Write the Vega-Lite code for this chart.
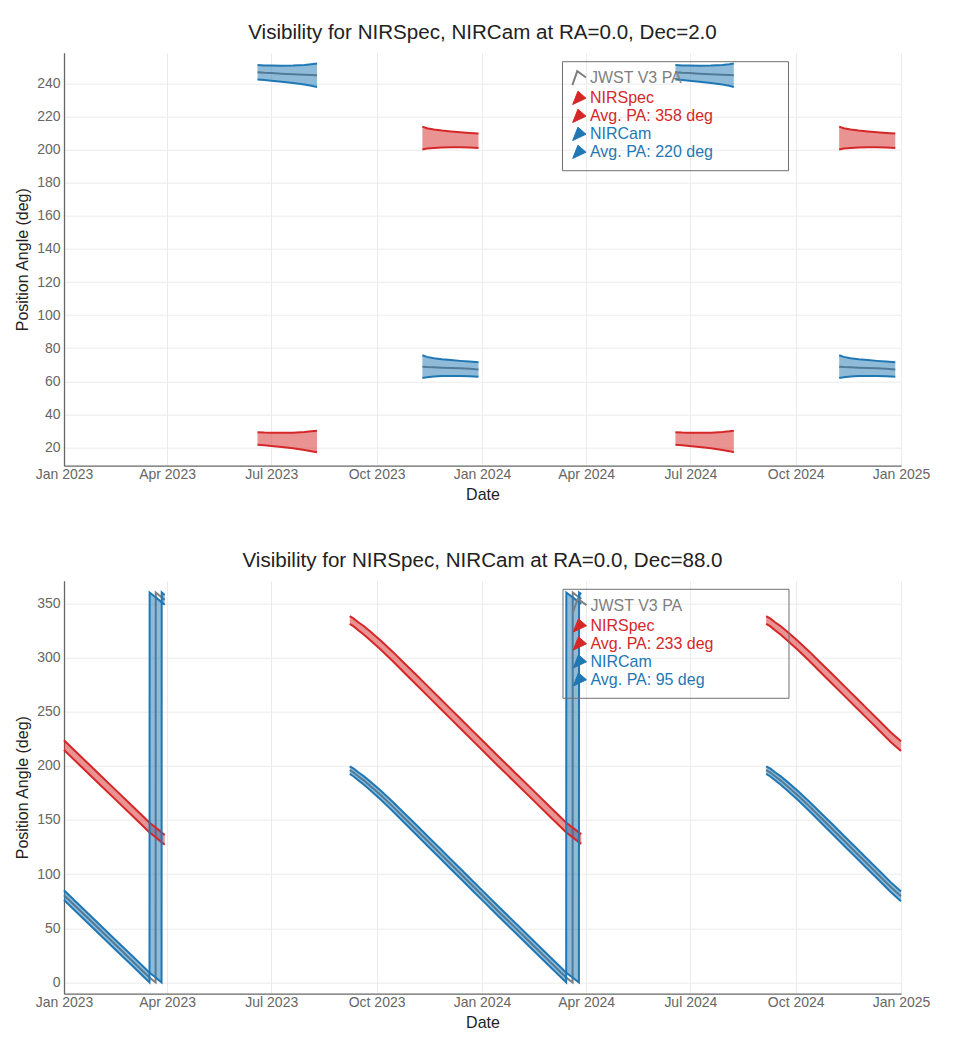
{
  "$schema": "https://vega.github.io/schema/vega-lite/v6.json",
  "padding": {"top": 22.7, "left": 14, "right": 10, "bottom": 5},
  "background": "white",
  "config": {
    "font": "Liberation Sans",
    "view": {"stroke": null},
    "axis": {"gridColor": "#ebebeb", "gridWidth": 1, "domainColor": "#666666", "domainWidth": 1.3, "ticks": false, "tickSize": 0, "labelColor": "#666666", "labelFontSize": 14, "titleColor": "#222222", "titleFontSize": 16, "titleFontWeight": "normal", "labelOverlap": false},
    "axisX": {"labelPadding": 2, "titlePadding": 5, "labelFlush": false},
    "axisY": {"labelPadding": 4, "titlePadding": 6.2},
    "title": {"fontSize": 20.6, "fontWeight": "normal", "color": "#222222", "anchor": "middle", "frame": "group", "offset": 9.3, "baseline": "alphabetic"},
    "legend": {"labelFontSize": 16, "padding": 9, "rowPadding": 0, "strokeColor": "#6f6f6f", "symbolSize": 196, "labelOffset": 3, "labelLimit": 400}
  },
  "data": {"values": [
    {"p":"a","g":"J23","t":"2023-06-19","sl":21.5,"sh":29.2,"cl":242.5,"ch":251.2,"v":246.9},
    {"p":"a","g":"J23","t":"2023-06-25","sl":21.2,"sh":29.0,"cl":242.2,"ch":251.0,"v":246.6},
    {"p":"a","g":"J23","t":"2023-07-01","sl":20.8,"sh":28.9,"cl":241.8,"ch":250.9,"v":246.4},
    {"p":"a","g":"J23","t":"2023-07-10","sl":20.2,"sh":28.8,"cl":241.2,"ch":250.8,"v":246.0},
    {"p":"a","g":"J23","t":"2023-07-20","sl":19.4,"sh":28.9,"cl":240.4,"ch":250.9,"v":245.7},
    {"p":"a","g":"J23","t":"2023-07-30","sl":18.4,"sh":29.3,"cl":239.4,"ch":251.3,"v":245.4},
    {"p":"a","g":"J23","t":"2023-08-05","sl":17.7,"sh":29.7,"cl":238.7,"ch":251.7,"v":245.2},
    {"p":"a","g":"J23","t":"2023-08-10","sl":17.0,"sh":30.1,"cl":238.0,"ch":252.1,"v":245.1},
    {"p":"a","g":"N23","t":"2023-11-10","sl":200.2,"sh":214.0,"cl":61.9,"ch":75.7,"v":68.8},
    {"p":"a","g":"N23","t":"2023-11-14","sl":200.7,"sh":213.0,"cl":62.4,"ch":74.7,"v":68.6},
    {"p":"a","g":"N23","t":"2023-11-20","sl":201.1,"sh":212.2,"cl":62.8,"ch":73.9,"v":68.4},
    {"p":"a","g":"N23","t":"2023-11-27","sl":201.4,"sh":211.6,"cl":63.1,"ch":73.3,"v":68.2},
    {"p":"a","g":"N23","t":"2023-12-05","sl":201.5,"sh":211.1,"cl":63.2,"ch":72.8,"v":68.0},
    {"p":"a","g":"N23","t":"2023-12-13","sl":201.5,"sh":210.6,"cl":63.2,"ch":72.3,"v":67.8},
    {"p":"a","g":"N23","t":"2023-12-21","sl":201.3,"sh":210.2,"cl":63.0,"ch":71.9,"v":67.5},
    {"p":"a","g":"N23","t":"2023-12-29","sl":201.0,"sh":209.8,"cl":62.7,"ch":71.5,"v":67.1},
    {"p":"a","g":"J24","t":"2024-06-18","sl":21.5,"sh":29.2,"cl":242.5,"ch":251.2,"v":246.9},
    {"p":"a","g":"J24","t":"2024-06-24","sl":21.2,"sh":29.0,"cl":242.2,"ch":251.0,"v":246.6},
    {"p":"a","g":"J24","t":"2024-06-30","sl":20.8,"sh":28.9,"cl":241.8,"ch":250.9,"v":246.4},
    {"p":"a","g":"J24","t":"2024-07-09","sl":20.2,"sh":28.8,"cl":241.2,"ch":250.8,"v":246.0},
    {"p":"a","g":"J24","t":"2024-07-19","sl":19.4,"sh":28.9,"cl":240.4,"ch":250.9,"v":245.7},
    {"p":"a","g":"J24","t":"2024-07-29","sl":18.4,"sh":29.3,"cl":239.4,"ch":251.3,"v":245.4},
    {"p":"a","g":"J24","t":"2024-08-04","sl":17.7,"sh":29.7,"cl":238.7,"ch":251.7,"v":245.2},
    {"p":"a","g":"J24","t":"2024-08-08","sl":17.0,"sh":30.1,"cl":238.0,"ch":252.1,"v":245.1},
    {"p":"a","g":"N24","t":"2024-11-08","sl":200.2,"sh":214.0,"cl":61.9,"ch":75.7,"v":68.8},
    {"p":"a","g":"N24","t":"2024-11-12","sl":200.7,"sh":213.0,"cl":62.4,"ch":74.7,"v":68.6},
    {"p":"a","g":"N24","t":"2024-11-18","sl":201.1,"sh":212.2,"cl":62.8,"ch":73.9,"v":68.4},
    {"p":"a","g":"N24","t":"2024-11-25","sl":201.4,"sh":211.6,"cl":63.1,"ch":73.3,"v":68.2},
    {"p":"a","g":"N24","t":"2024-12-03","sl":201.5,"sh":211.1,"cl":63.2,"ch":72.8,"v":68.0},
    {"p":"a","g":"N24","t":"2024-12-11","sl":201.5,"sh":210.6,"cl":63.2,"ch":72.3,"v":67.8},
    {"p":"a","g":"N24","t":"2024-12-19","sl":201.3,"sh":210.2,"cl":63.0,"ch":71.9,"v":67.5},
    {"p":"a","g":"N24","t":"2024-12-27","sl":201.0,"sh":209.8,"cl":62.7,"ch":71.5,"v":67.1},

    {"p":"b","g":"A","t":"2023-01-01","sl":214.5,"sh":223.5,"cl":76,"ch":85,"v":80.5},
    {"p":"b","g":"A","t":"2023-01-15","sl":200.3,"sh":209.3,"cl":61.8,"ch":70.8,"v":66.3},
    {"p":"b","g":"A","t":"2023-02-01","sl":183,"sh":192,"cl":44.5,"ch":53.5,"v":49},
    {"p":"b","g":"A","t":"2023-02-15","sl":168.7,"sh":177.7,"cl":30.2,"ch":39.2,"v":34.7},
    {"p":"b","g":"A","t":"2023-03-01","sl":154.5,"sh":163.5,"cl":16,"ch":25,"v":20.5},
    {"p":"b","g":"A","t":"2023-03-10","sl":145.3,"sh":154.3,"cl":6.8,"ch":15.8,"v":11.3},
    {"p":"b","g":"A","t":"2023-03-16T16:00:00Z","sl":138.5,"sh":147.5,"cl":0,"ch":9,"v":4.5},
    {"p":"b","g":"A","t":"2023-03-16T19:00:00Z","sl":138.4,"sh":147.4,"cl":359.9,"ch":8.9,"v":4.4},
    {"p":"b","g":"A","t":"2023-03-22T00:00:00Z","sl":134,"sh":143,"cl":355.5,"ch":4.5,"v":0},
    {"p":"b","g":"A","t":"2023-03-22T03:00:00Z","sl":133.9,"sh":142.9,"cl":355.4,"ch":4.4,"v":359.9},
    {"p":"b","g":"A","t":"2023-03-27T05:00:00Z","sl":129.5,"sh":138.5,"cl":351,"ch":0,"v":355.5},
    {"p":"b","g":"A","t":"2023-03-27T08:00:00Z","sl":129.4,"sh":138.4,"cl":350.9,"ch":359.9,"v":355.4},
    {"p":"b","g":"A","t":"2023-03-30","sl":127,"sh":136,"cl":348.5,"ch":357.5,"v":353},

    {"p":"b","g":"B","t":"2023-09-07T14:00:00Z","sl":331,"sh":338,"cl":192.5,"ch":199.5,"v":196},
    {"p":"b","g":"B","t":"2023-09-11","sl":328.6,"sh":335.8,"cl":190.1,"ch":197.3,"v":193.7},
    {"p":"b","g":"B","t":"2023-09-15","sl":325.1,"sh":332.5,"cl":186.6,"ch":194,"v":190.3},
    {"p":"b","g":"B","t":"2023-09-20","sl":320.9,"sh":328.7,"cl":182.4,"ch":190.2,"v":186.3},
    {"p":"b","g":"B","t":"2023-09-25","sl":316.3,"sh":324.3,"cl":177.8,"ch":185.8,"v":181.8},
    {"p":"b","g":"B","t":"2023-10-05","sl":306.8,"sh":315.2,"cl":168.3,"ch":176.7,"v":172.5},
    {"p":"b","g":"B","t":"2023-10-15","sl":296.7,"sh":305.3,"cl":158.2,"ch":166.8,"v":162.5},
    {"p":"b","g":"B","t":"2023-10-25","sl":286.1,"sh":294.9,"cl":147.6,"ch":156.4,"v":152},
    {"p":"b","g":"B","t":"2023-11-05","sl":274.5,"sh":283.5,"cl":136,"ch":145,"v":140.5},
    {"p":"b","g":"B","t":"2023-11-15","sl":264,"sh":273,"cl":125.5,"ch":134.5,"v":130},
    {"p":"b","g":"B","t":"2023-11-25","sl":253.5,"sh":262.5,"cl":115,"ch":124,"v":119.5},
    {"p":"b","g":"B","t":"2023-12-05","sl":243,"sh":252,"cl":104.5,"ch":113.5,"v":109},
    {"p":"b","g":"B","t":"2023-12-15","sl":232.5,"sh":241.5,"cl":94,"ch":103,"v":98.5},
    {"p":"b","g":"B","t":"2023-12-25","sl":222,"sh":231,"cl":83.5,"ch":92.5,"v":88},
    {"p":"b","g":"B","t":"2024-01-01","sl":214.7,"sh":223.7,"cl":76.2,"ch":85.2,"v":80.7},
    {"p":"b","g":"B","t":"2024-01-15","sl":200,"sh":209,"cl":61.5,"ch":70.5,"v":66},
    {"p":"b","g":"B","t":"2024-02-01","sl":182.5,"sh":191.5,"cl":44,"ch":53,"v":48.5},
    {"p":"b","g":"B","t":"2024-02-15","sl":168,"sh":177,"cl":29.5,"ch":38.5,"v":34},
    {"p":"b","g":"B","t":"2024-03-01","sl":152.5,"sh":161.5,"cl":14,"ch":23,"v":18.5},
    {"p":"b","g":"B","t":"2024-03-08","sl":145.3,"sh":154.3,"cl":6.8,"ch":15.8,"v":11.3},
    {"p":"b","g":"B","t":"2024-03-14T14:00:00Z","sl":138.5,"sh":147.5,"cl":0,"ch":9,"v":4.5},
    {"p":"b","g":"B","t":"2024-03-14T17:00:00Z","sl":138.4,"sh":147.4,"cl":359.9,"ch":8.9,"v":4.4},
    {"p":"b","g":"B","t":"2024-03-20T04:00:00Z","sl":134,"sh":143,"cl":355.5,"ch":4.5,"v":0},
    {"p":"b","g":"B","t":"2024-03-20T07:00:00Z","sl":133.9,"sh":142.9,"cl":355.4,"ch":4.4,"v":359.9},
    {"p":"b","g":"B","t":"2024-03-25T17:00:00Z","sl":129.5,"sh":138.5,"cl":351,"ch":0,"v":355.5},
    {"p":"b","g":"B","t":"2024-03-25T20:00:00Z","sl":129.4,"sh":138.4,"cl":350.9,"ch":359.9,"v":355.4},
    {"p":"b","g":"B","t":"2024-03-27T17:00:00Z","sl":127.9,"sh":136.9,"cl":349.4,"ch":358.4,"v":353.9},

    {"p":"b","g":"C","t":"2024-09-05T05:00:00Z","sl":331,"sh":338,"cl":192.5,"ch":199.5,"v":196},
    {"p":"b","g":"C","t":"2024-09-09","sl":328.6,"sh":335.8,"cl":190.1,"ch":197.3,"v":193.7},
    {"p":"b","g":"C","t":"2024-09-13","sl":325.1,"sh":332.5,"cl":186.6,"ch":194,"v":190.3},
    {"p":"b","g":"C","t":"2024-09-18","sl":320.9,"sh":328.7,"cl":182.4,"ch":190.2,"v":186.3},
    {"p":"b","g":"C","t":"2024-09-23","sl":316.3,"sh":324.3,"cl":177.8,"ch":185.8,"v":181.8},
    {"p":"b","g":"C","t":"2024-10-03","sl":306.8,"sh":315.2,"cl":168.3,"ch":176.7,"v":172.5},
    {"p":"b","g":"C","t":"2024-10-13","sl":296.7,"sh":305.3,"cl":158.2,"ch":166.8,"v":162.5},
    {"p":"b","g":"C","t":"2024-10-23","sl":286.1,"sh":294.9,"cl":147.6,"ch":156.4,"v":152},
    {"p":"b","g":"C","t":"2024-11-03","sl":274.5,"sh":283.5,"cl":136,"ch":145,"v":140.5},
    {"p":"b","g":"C","t":"2024-11-13","sl":264,"sh":273,"cl":125.5,"ch":134.5,"v":130},
    {"p":"b","g":"C","t":"2024-11-23","sl":253.5,"sh":262.5,"cl":115,"ch":124,"v":119.5},
    {"p":"b","g":"C","t":"2024-12-03","sl":243,"sh":252,"cl":104.5,"ch":113.5,"v":109},
    {"p":"b","g":"C","t":"2024-12-13","sl":232.5,"sh":241.5,"cl":94,"ch":103,"v":98.5},
    {"p":"b","g":"C","t":"2024-12-23","sl":222,"sh":231,"cl":83.5,"ch":92.5,"v":88},
    {"p":"b","g":"C","t":"2025-01-01","sl":213.5,"sh":222.5,"cl":75,"ch":84,"v":79.5}
  ]},
  "resolve": {"scale": {"color": "independent"}, "legend": {"color": "independent"}},
  "spacing": 48,
  "vconcat": [
    {
      "width": 837, "height": 413,
      "title": {"text": "Visibility for NIRSpec, NIRCam at RA=0.0, Dec=2.0"},
      "transform": [{"filter": "datum.p === 'a'"}],
      "encoding": {
        "x": {"field": "t", "type": "temporal", "title": "Date",
          "scale": {"type": "utc", "domain": [{"year": 2023, "month": 1, "date": 1, "utc": true}, {"year": 2025, "month": 1, "date": 1, "utc": true}]},
          "axis": {"format": "%b %Y", "values": [
            {"year": 2023, "month": 1, "date": 1, "utc": true}, {"year": 2023, "month": 4, "date": 1, "utc": true},
            {"year": 2023, "month": 7, "date": 1, "utc": true}, {"year": 2023, "month": 10, "date": 1, "utc": true},
            {"year": 2024, "month": 1, "date": 1, "utc": true}, {"year": 2024, "month": 4, "date": 1, "utc": true},
            {"year": 2024, "month": 7, "date": 1, "utc": true}, {"year": 2024, "month": 10, "date": 1, "utc": true},
            {"year": 2025, "month": 1, "date": 1, "utc": true}]}}
      },
      "layer": [
        {"mark": {"type": "line", "strokeWidth": 2},
         "encoding": {
           "y": {"field": "v", "type": "quantitative", "title": "Position Angle (deg)", "scale": {"domain": [8.9, 258.7], "nice": false, "zero": false}, "axis": {"values": [20,40,60,80,100,120,140,160,180,200,220,240]}},
           "detail": {"field": "g"},
           "color": {"datum": "JWST V3 PA", "type": "nominal",
             "scale": {"domain": ["JWST V3 PA", "NIRSpec", "Avg. PA: 358 deg", "NIRCam", "Avg. PA: 220 deg"], "range": ["#7f7f7f", "#d62728", "#d62728", "#1f77b4", "#1f77b4"]},
             "legend": {"orient": "none", "legendX": 498, "legendY": 8.5, "title": null,
               "encode": {
                 "labels": {"update": {
                   "text": {"signal": "datum.label + '            \u2800'"},
                   "fill": {"signal": "datum.value === 'JWST V3 PA' ? '#7f7f7f' : (datum.value === 'NIRSpec' || datum.value === 'Avg. PA: 358 deg') ? '#d62728' : '#1f77b4'"}}},
                 "symbols": {"update": {
                   "shape": {"signal": "datum.value === 'JWST V3 PA' ? 'M-0.95,1L-0.25,-1L1,-0.1' : 'M-0.9,0.9L1,0L-0.15,-1Z'"},
                   "fill": {"signal": "datum.value === 'JWST V3 PA' ? 'transparent' : (datum.value === 'NIRSpec' || datum.value === 'Avg. PA: 358 deg') ? '#d62728' : '#1f77b4'"},
                   "fillOpacity": {"signal": "datum.value === 'JWST V3 PA' ? 0 : 1"},
                   "stroke": {"signal": "datum.value === 'JWST V3 PA' ? '#7f7f7f' : (datum.value === 'NIRSpec' || datum.value === 'Avg. PA: 358 deg') ? '#d62728' : '#1f77b4'"},
                   "strokeWidth": {"signal": "datum.value === 'JWST V3 PA' ? 2 : 1"},
                   "opacity": {"value": 1}
                 }}
               }}}
         }},
        {"mark": {"type": "area", "opacity": 0.5},
         "encoding": {
           "y": {"field": "sl", "type": "quantitative", "title": "Position Angle (deg)", "scale": {"domain": [8.9, 258.7], "nice": false, "zero": false}, "axis": {"values": [20,40,60,80,100,120,140,160,180,200,220,240]}},
           "y2": {"field": "sh"},
           "detail": {"field": "g"},
           "color": {"datum": "NIRSpec", "type": "nominal", "scale": {"domain": ["JWST V3 PA", "NIRSpec", "Avg. PA: 358 deg", "NIRCam", "Avg. PA: 220 deg"], "range": ["#7f7f7f", "#d62728", "#d62728", "#1f77b4", "#1f77b4"]}}
         }},
        {"mark": {"type": "area", "opacity": 0.5},
         "encoding": {
           "y": {"field": "cl", "type": "quantitative", "title": "Position Angle (deg)", "scale": {"domain": [8.9, 258.7], "nice": false, "zero": false}, "axis": {"values": [20,40,60,80,100,120,140,160,180,200,220,240]}},
           "y2": {"field": "ch"},
           "detail": {"field": "g"},
           "color": {"datum": "NIRCam", "type": "nominal", "scale": {"domain": ["JWST V3 PA", "NIRSpec", "Avg. PA: 358 deg", "NIRCam", "Avg. PA: 220 deg"], "range": ["#7f7f7f", "#d62728", "#d62728", "#1f77b4", "#1f77b4"]}}
         }},
        {"mark": {"type": "line", "strokeWidth": 2},
         "encoding": {
           "y": {"field": "sl", "type": "quantitative", "title": "Position Angle (deg)", "scale": {"domain": [8.9, 258.7], "nice": false, "zero": false}, "axis": {"values": [20,40,60,80,100,120,140,160,180,200,220,240]}},
           "detail": {"field": "g"},
           "color": {"datum": "NIRSpec", "type": "nominal", "scale": {"domain": ["JWST V3 PA", "NIRSpec", "Avg. PA: 358 deg", "NIRCam", "Avg. PA: 220 deg"], "range": ["#7f7f7f", "#d62728", "#d62728", "#1f77b4", "#1f77b4"]}}
         }},
        {"mark": {"type": "line", "strokeWidth": 2},
         "encoding": {
           "y": {"field": "sh", "type": "quantitative", "title": "Position Angle (deg)", "scale": {"domain": [8.9, 258.7], "nice": false, "zero": false}, "axis": {"values": [20,40,60,80,100,120,140,160,180,200,220,240]}},
           "detail": {"field": "g"},
           "color": {"datum": "NIRSpec", "type": "nominal", "scale": {"domain": ["JWST V3 PA", "NIRSpec", "Avg. PA: 358 deg", "NIRCam", "Avg. PA: 220 deg"], "range": ["#7f7f7f", "#d62728", "#d62728", "#1f77b4", "#1f77b4"]}}
         }},
        {"mark": {"type": "line", "strokeWidth": 2},
         "encoding": {
           "y": {"field": "cl", "type": "quantitative", "title": "Position Angle (deg)", "scale": {"domain": [8.9, 258.7], "nice": false, "zero": false}, "axis": {"values": [20,40,60,80,100,120,140,160,180,200,220,240]}},
           "detail": {"field": "g"},
           "color": {"datum": "NIRCam", "type": "nominal", "scale": {"domain": ["JWST V3 PA", "NIRSpec", "Avg. PA: 358 deg", "NIRCam", "Avg. PA: 220 deg"], "range": ["#7f7f7f", "#d62728", "#d62728", "#1f77b4", "#1f77b4"]}}
         }},
        {"mark": {"type": "line", "strokeWidth": 2},
         "encoding": {
           "y": {"field": "ch", "type": "quantitative", "title": "Position Angle (deg)", "scale": {"domain": [8.9, 258.7], "nice": false, "zero": false}, "axis": {"values": [20,40,60,80,100,120,140,160,180,200,220,240]}},
           "detail": {"field": "g"},
           "color": {"datum": "NIRCam", "type": "nominal", "scale": {"domain": ["JWST V3 PA", "NIRSpec", "Avg. PA: 358 deg", "NIRCam", "Avg. PA: 220 deg"], "range": ["#7f7f7f", "#d62728", "#d62728", "#1f77b4", "#1f77b4"]}}
         }}
      ]
    },
    {
      "width": 837, "height": 413,
      "title": {"text": "Visibility for NIRSpec, NIRCam at RA=0.0, Dec=88.0"},
      "transform": [{"filter": "datum.p === 'b'"}],
      "encoding": {
        "x": {"field": "t", "type": "temporal", "title": "Date",
          "scale": {"type": "utc", "domain": [{"year": 2023, "month": 1, "date": 1, "utc": true}, {"year": 2025, "month": 1, "date": 1, "utc": true}]},
          "axis": {"format": "%b %Y", "values": [
            {"year": 2023, "month": 1, "date": 1, "utc": true}, {"year": 2023, "month": 4, "date": 1, "utc": true},
            {"year": 2023, "month": 7, "date": 1, "utc": true}, {"year": 2023, "month": 10, "date": 1, "utc": true},
            {"year": 2024, "month": 1, "date": 1, "utc": true}, {"year": 2024, "month": 4, "date": 1, "utc": true},
            {"year": 2024, "month": 7, "date": 1, "utc": true}, {"year": 2024, "month": 10, "date": 1, "utc": true},
            {"year": 2025, "month": 1, "date": 1, "utc": true}]}}
      },
      "layer": [
        {"mark": {"type": "line", "strokeWidth": 2},
         "encoding": {
           "y": {"field": "v", "type": "quantitative", "title": "Position Angle (deg)", "scale": {"domain": [-10.4, 370.8], "nice": false, "zero": false}, "axis": {"values": [0,50,100,150,200,250,300,350]}},
           "detail": {"field": "g"},
           "color": {"datum": "JWST V3 PA", "type": "nominal",
             "scale": {"domain": ["JWST V3 PA", "NIRSpec", "Avg. PA: 233 deg", "NIRCam", "Avg. PA: 95 deg"], "range": ["#7f7f7f", "#d62728", "#d62728", "#1f77b4", "#1f77b4"]},
             "legend": {"orient": "none", "legendX": 498.5, "legendY": 8.1, "title": null,
               "encode": {
                 "labels": {"update": {
                   "text": {"signal": "datum.label + '            \u2800'"},
                   "fill": {"signal": "datum.value === 'JWST V3 PA' ? '#7f7f7f' : (datum.value === 'NIRSpec' || datum.value === 'Avg. PA: 233 deg') ? '#d62728' : '#1f77b4'"}}},
                 "symbols": {"update": {
                   "shape": {"signal": "datum.value === 'JWST V3 PA' ? 'M-0.95,1L-0.25,-1L1,-0.1' : 'M-0.9,0.9L1,0L-0.15,-1Z'"},
                   "fill": {"signal": "datum.value === 'JWST V3 PA' ? 'transparent' : (datum.value === 'NIRSpec' || datum.value === 'Avg. PA: 233 deg') ? '#d62728' : '#1f77b4'"},
                   "fillOpacity": {"signal": "datum.value === 'JWST V3 PA' ? 0 : 1"},
                   "stroke": {"signal": "datum.value === 'JWST V3 PA' ? '#7f7f7f' : (datum.value === 'NIRSpec' || datum.value === 'Avg. PA: 233 deg') ? '#d62728' : '#1f77b4'"},
                   "strokeWidth": {"signal": "datum.value === 'JWST V3 PA' ? 2 : 1"},
                   "opacity": {"value": 1}
                 }}
               }}}
         }},
        {"mark": {"type": "area", "opacity": 0.5},
         "encoding": {
           "y": {"field": "sl", "type": "quantitative", "title": "Position Angle (deg)", "scale": {"domain": [-10.4, 370.8], "nice": false, "zero": false}, "axis": {"values": [0,50,100,150,200,250,300,350]}},
           "y2": {"field": "sh"},
           "detail": {"field": "g"},
           "color": {"datum": "NIRSpec", "type": "nominal", "scale": {"domain": ["JWST V3 PA", "NIRSpec", "Avg. PA: 233 deg", "NIRCam", "Avg. PA: 95 deg"], "range": ["#7f7f7f", "#d62728", "#d62728", "#1f77b4", "#1f77b4"]}}
         }},
        {"mark": {"type": "area", "opacity": 0.5},
         "encoding": {
           "y": {"field": "cl", "type": "quantitative", "title": "Position Angle (deg)", "scale": {"domain": [-10.4, 370.8], "nice": false, "zero": false}, "axis": {"values": [0,50,100,150,200,250,300,350]}},
           "y2": {"field": "ch"},
           "detail": {"field": "g"},
           "color": {"datum": "NIRCam", "type": "nominal", "scale": {"domain": ["JWST V3 PA", "NIRSpec", "Avg. PA: 233 deg", "NIRCam", "Avg. PA: 95 deg"], "range": ["#7f7f7f", "#d62728", "#d62728", "#1f77b4", "#1f77b4"]}}
         }},
        {"mark": {"type": "line", "strokeWidth": 2},
         "encoding": {
           "y": {"field": "sl", "type": "quantitative", "title": "Position Angle (deg)", "scale": {"domain": [-10.4, 370.8], "nice": false, "zero": false}, "axis": {"values": [0,50,100,150,200,250,300,350]}},
           "detail": {"field": "g"},
           "color": {"datum": "NIRSpec", "type": "nominal", "scale": {"domain": ["JWST V3 PA", "NIRSpec", "Avg. PA: 233 deg", "NIRCam", "Avg. PA: 95 deg"], "range": ["#7f7f7f", "#d62728", "#d62728", "#1f77b4", "#1f77b4"]}}
         }},
        {"mark": {"type": "line", "strokeWidth": 2},
         "encoding": {
           "y": {"field": "sh", "type": "quantitative", "title": "Position Angle (deg)", "scale": {"domain": [-10.4, 370.8], "nice": false, "zero": false}, "axis": {"values": [0,50,100,150,200,250,300,350]}},
           "detail": {"field": "g"},
           "color": {"datum": "NIRSpec", "type": "nominal", "scale": {"domain": ["JWST V3 PA", "NIRSpec", "Avg. PA: 233 deg", "NIRCam", "Avg. PA: 95 deg"], "range": ["#7f7f7f", "#d62728", "#d62728", "#1f77b4", "#1f77b4"]}}
         }},
        {"mark": {"type": "line", "strokeWidth": 2},
         "encoding": {
           "y": {"field": "cl", "type": "quantitative", "title": "Position Angle (deg)", "scale": {"domain": [-10.4, 370.8], "nice": false, "zero": false}, "axis": {"values": [0,50,100,150,200,250,300,350]}},
           "detail": {"field": "g"},
           "color": {"datum": "NIRCam", "type": "nominal", "scale": {"domain": ["JWST V3 PA", "NIRSpec", "Avg. PA: 233 deg", "NIRCam", "Avg. PA: 95 deg"], "range": ["#7f7f7f", "#d62728", "#d62728", "#1f77b4", "#1f77b4"]}}
         }},
        {"mark": {"type": "line", "strokeWidth": 2},
         "encoding": {
           "y": {"field": "ch", "type": "quantitative", "title": "Position Angle (deg)", "scale": {"domain": [-10.4, 370.8], "nice": false, "zero": false}, "axis": {"values": [0,50,100,150,200,250,300,350]}},
           "detail": {"field": "g"},
           "color": {"datum": "NIRCam", "type": "nominal", "scale": {"domain": ["JWST V3 PA", "NIRSpec", "Avg. PA: 233 deg", "NIRCam", "Avg. PA: 95 deg"], "range": ["#7f7f7f", "#d62728", "#d62728", "#1f77b4", "#1f77b4"]}}
         }}
      ]
    }
  ]
}
